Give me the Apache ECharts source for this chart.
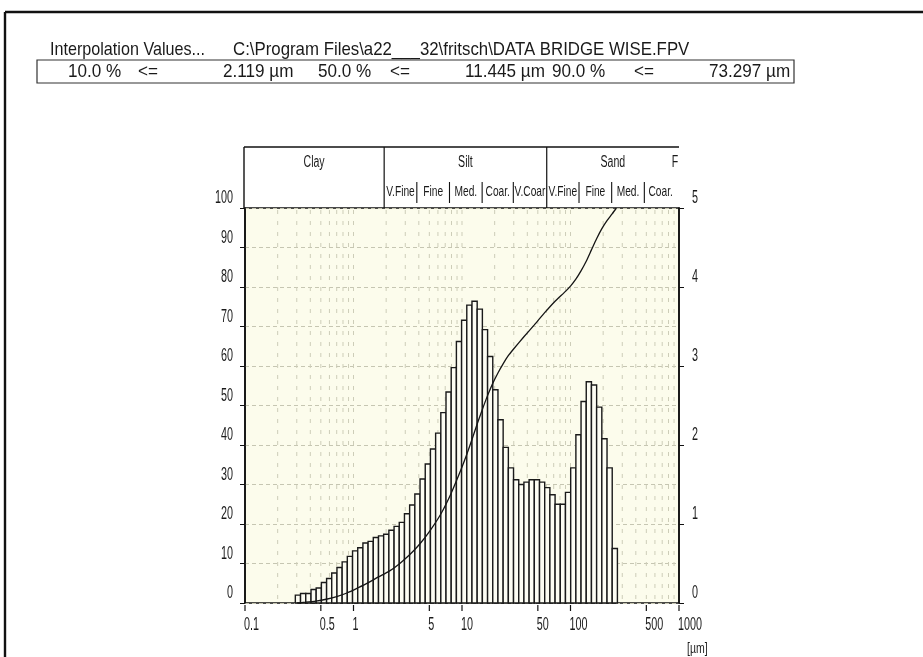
<!DOCTYPE html>
<html>
<head>
<meta charset="utf-8">
<script src="https://cdn.jsdelivr.net/npm/echarts@6/dist/echarts.min.js"></script>
<style>
html,body{margin:0;padding:0;background:#ffffff;}
#c{width:923px;height:657px;}
</style>
</head>
<body>
<div id="c"></div>
<script>
// ---------- data ----------
// histogram class edges (µm), log-spaced
const binEdges = [0.291,0.325,0.363,0.406,0.453,0.506,0.565,0.630,0.704,0.786,0.877,0.980,1.094,1.221,1.363,1.522,1.700,1.897,2.119,2.366,2.641,2.949,3.292,3.676,4.105,4.584,5.117,5.714,6.380,7.122,7.953,8.880,9.913,11.07,12.36,13.80,15.41,17.21,19.21,21.45,23.95,26.74,29.85,33.34,37.22,41.55,46.40,51.81,57.84,64.57,72.10,80.51,89.87,100.4,112.1,125.1,139.7,156.0,174.1,194.4,217.1,242.4,270.6];
// frequency per class in % (right axis, 0..5)
const freqDensity = [0.10,0.12,0.12,0.17,0.19,0.26,0.31,0.38,0.45,0.52,
  0.59,0.66,0.70,0.76,0.78,0.83,0.85,0.87,0.92,0.97,
  1.02,1.13,1.24,1.38,1.57,1.76,1.95,2.15,2.41,2.67,
  2.98,3.31,3.58,3.77,3.82,3.72,3.46,3.12,2.70,2.32,
  1.97,1.71,1.56,1.50,1.53,1.56,1.56,1.53,1.46,1.37,
  1.25,1.25,1.40,1.71,2.13,2.55,2.80,2.76,2.48,2.08,
  1.71,0.69];
// cumulative curve (left axis, %)
const cumSizes = [0.30,0.36,0.45,0.56,0.70,0.88,1.09,1.36,1.70,2.12,2.64,3.29,4.1,5.1,6.4,7.95,9.9,11.1,12.4,13.8,15.4,17.2,19.2,21.5,24,26.7,29.9,37.2,46.4,57.8,72.1,89.9,100.4,112,125,140,156,174,194,217,242,265];
const cumPercent = [0,0.2,0.5,0.95,1.6,2.6,3.8,5.1,6.6,8.0,9.9,12.2,15.0,18.4,22.6,27.8,34.1,37.7,41.5,45.3,49.0,52.5,55.6,58.3,60.6,62.6,64.3,67.4,70.4,73.5,76.4,78.9,80.3,82.0,84.1,86.6,89.4,92.2,94.7,96.8,98.5,100];
// axis tick labels
const xTickValues = [0.1,0.5,1,5,10,50,100,500,1000];
const xTickLabels = ['0.1','0.5','1','5','10','50','100','500','1000'];
const yLeftValues = [0,10,20,30,40,50,60,70,80,90,100];
const yRightValues = [0,1,2,3,4,5];
const minorGridValues = [0.2,0.3,0.4,0.5,0.6,0.7,0.8,0.9,1,2,3,4,5,6,7,8,9,10,20,30,40,50,60,70,80,90,100,200,300,400,500,600,700,800,900];
// grain size classes
const classBounds = [2, 63];
const classNames = ['Clay','Silt','Sand'];
const subBounds = [2,4,8,16,31,63,125,250,500,1000];
const subNames = ['V.Fine','Fine','Med.','Coar.','V.Coar','V.Fine','Fine','Med.','Coar.'];
// interpolation header
const titleText = 'Interpolation Values...';
const fileText = 'C:\\Program Files\\a22___32\\fritsch\\DATA BRIDGE WISE.FPV';
const interpPercents = ['10.0 %','50.0 %','90.0 %'];
const interpSizes = ['2.119 µm','11.445 µm','73.297 µm'];

// ---------- chart ----------
const FONT = "'Liberation Sans',Arial,sans-serif";
const chart = echarts.init(document.getElementById('c'), null, {renderer:'canvas'});

const barData = freqDensity.map((h,i)=>[binEdges[i], binEdges[i+1], h]);
const cumData = cumSizes.map((s,i)=>[s, cumPercent[i]]);

const option = {
  animation:false,
  backgroundColor:'#ffffff',
  grid:{left:245,right:244,top:208,bottom:54,show:true,backgroundColor:'#fcfcec',borderColor:'#111',borderWidth:1.6},
  xAxis:{type:'log',logBase:10,min:0.1,max:1000,
    axisLine:{show:false},axisTick:{show:false},axisLabel:{show:false},splitLine:{show:false}},
  yAxis:[
    {type:'value',min:0,max:100,interval:10,position:'left',
     axisLine:{show:true,lineStyle:{color:'#111',width:1.6}},
     axisTick:{show:true,length:5,lineStyle:{color:'#111'}},
     axisLabel:{show:false},
     splitLine:{show:true,lineStyle:{color:'#c6c6b2',width:1,type:[4,3]}}},
    {type:'value',min:0,max:5,interval:1,position:'right',
     axisLine:{show:true,lineStyle:{color:'#111',width:1.6}},
     axisTick:{show:true,length:5,lineStyle:{color:'#111'}},
     axisLabel:{show:false},
     splitLine:{show:false}}
  ],
  series:[
    {type:'custom',name:'density',xAxisIndex:0,yAxisIndex:1,z:3,
     encode:{x:[0,1],y:2},
     data:barData,
     renderItem:function(params,api){
       const p0 = api.coord([api.value(0),0]);
       const p1 = api.coord([api.value(1),api.value(2)]);
       return {type:'rect',
         shape:{x:p0[0],y:p1[1],width:p1[0]-p0[0],height:p0[1]-p1[1]},
         style:{fill:'#fdfdf3',stroke:'#1a1a1a',lineWidth:1.4}};
     }},
    {type:'line',name:'cumulative',xAxisIndex:0,yAxisIndex:0,z:4,
     data:cumData,symbol:'none',smooth:0.2,
     lineStyle:{color:'#151515',width:1.3}}
  ]
};
chart.setOption(option);

// decorations positioned through the chart's own scales
const px = v => chart.convertToPixel({xAxisIndex:0}, v);
const pyL = v => chart.convertToPixel({yAxisIndex:0}, v);
const pyR = v => chart.convertToPixel({yAxisIndex:1}, v);
const yTop = pyL(100), yBot = pyL(0);
const xL = px(0.1), xR = px(1000);
const g = [];
const line = (x1,y1,x2,y2,w,c,dash,z) => g.push({type:'line',z:z||10,silent:true,
  shape:{x1,y1,x2,y2},style:{stroke:c||'#111',lineWidth:w||1,lineDash:dash||null}});
const text = (x,y,t,size,align,sx,c) => g.push({type:'text',z:11,silent:true,x,y,scaleX:sx||1,
  style:{text:t,fontFamily:FONT,fontSize:size,fill:c||'#1a1a1a',align:align||'center',verticalAlign:'middle'}});

// vertical minor grid lines
minorGridValues.forEach(v=>{ const x=px(v); line(x,yTop+2,x,yBot-1,1,'#cdcdb8',[4,7],1); });

// axis labels
yLeftValues.forEach(v=>{ text(xL-12, pyL(v)-9.5, String(v), 18, 'right', 0.6); });
yRightValues.forEach(v=>{ text(xR+13, pyR(v)-10, String(v), 18, 'left', 0.6); });
xTickValues.forEach((v,i)=>{ const x=px(v); line(x,yBot+2,x,yBot+8,1.2,'#111'); text(x-1,yBot+22,xTickLabels[i],18,'left',0.6); });
text(xR+8, yBot+46, '[µm]', 15, 'left', 0.7);

// header box with grain size classes
const hTop = yTop-61, sh = -2;
line(xL-1,hTop,xR,hTop,1.6,'#111');
line(xL-1,hTop,xL-1,yTop,1.4,'#111');
const cb = [xL-1].concat(classBounds.map(b=>px(b)+sh)).concat([xR]);
classBounds.forEach(b=>{ const x=px(b)+sh; line(x,hTop,x,yTop,1.2,'#111'); });
classNames.forEach((n,i)=>{ text((cb[i]+cb[i+1])/2, hTop+16, n, 16, 'center', 0.66); });
text(xR-4, hTop+16, 'F', 16, 'center', 0.66);
const sb = subBounds.map(b=>px(b)+sh);
for (let i=1;i<sb.length-1;i++){ if (subBounds[i]!==63) line(sb[i],yTop-26,sb[i],yTop-5,1.1,'#111'); }
subNames.forEach((n,i)=>{ text((sb[i]+sb[i+1])/2, yTop-16, n, 15, 'center', 0.68); });

// outer frame
line(5,12,923,12,2.6,'#111');
line(5,12,5,657,2.4,'#111');

// interpolation header
text(50,50,titleText,19,'left',0.85);
text(233,50,fileText,19,'left',0.885);
g.push({type:'rect',z:10,silent:true,shape:{x:37,y:60,width:757,height:23},style:{fill:'none',stroke:'#333',lineWidth:1.2}});
const pctX=[68,318,552], leX=[138,390,634], sizeLX=[223,465,709];
for (let i=0;i<3;i++){
  text(pctX[i],72,interpPercents[i],19,'left',0.9);
  text(leX[i],72,'<=',19,'left',0.9);
  text(sizeLX[i],72,interpSizes[i],19,'left',0.9);
}
chart.setOption({graphic:{elements:g}});
</script>
</body>
</html>
